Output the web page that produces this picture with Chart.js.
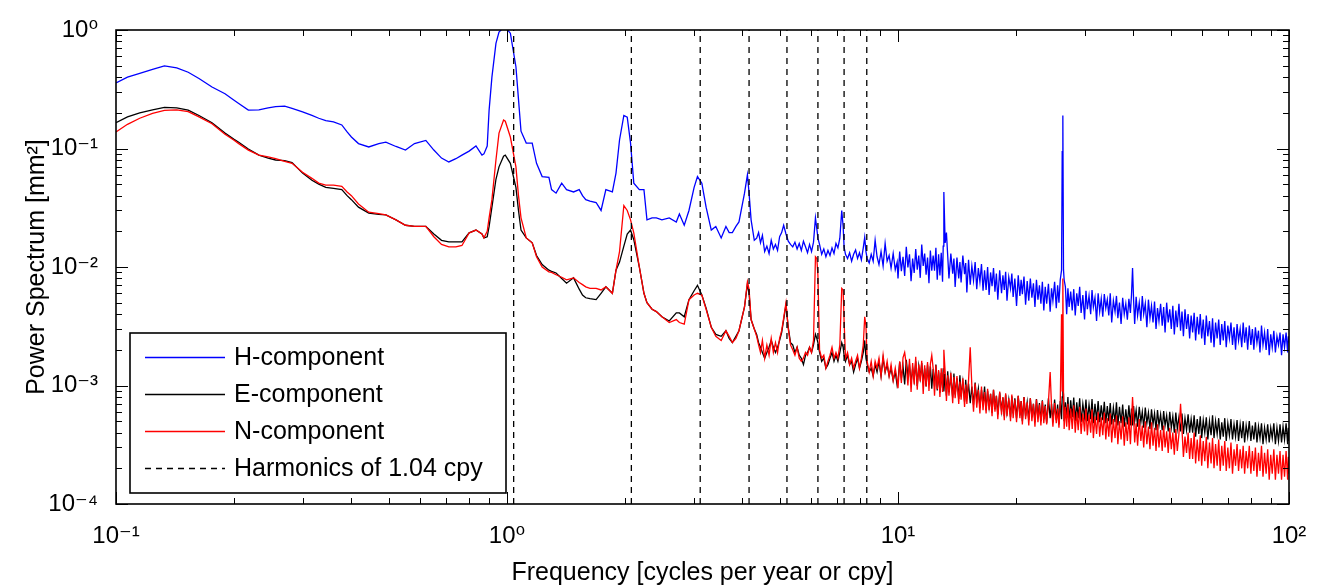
<!DOCTYPE html>
<html>
<head>
<meta charset="utf-8">
<script src="https://cdn.jsdelivr.net/npm/chart.js@4.4.1/dist/chart.umd.min.js"></script>
<style>
  html, body { margin: 0; padding: 0; background: #fff; }
  #wrap { width: 1321px; height: 588px; }
</style>
</head>
<body>
<div id="wrap"><canvas id="c" width="1321" height="588"></canvas></div>
<script>
// ---------------- DATA ----------------
// 0.1 .. 4.29 cpy
const freqLow = [
  0.100, 0.107, 0.115, 0.124, 0.133, 0.143, 0.153, 0.163, 0.176, 0.190,
  0.200, 0.206, 0.218, 0.232, 0.245, 0.256, 0.270, 0.282, 0.300, 0.317,
  0.330, 0.344, 0.360, 0.378, 0.390, 0.400, 0.417, 0.443, 0.470, 0.490,
  0.520, 0.550, 0.580, 0.620, 0.650, 0.680, 0.710, 0.740, 0.767, 0.800,
  0.833, 0.863, 0.873, 0.890, 0.900, 0.915, 0.937, 0.954, 0.980, 0.990,
  1.020, 1.054, 1.070, 1.086, 1.120, 1.160, 1.190, 1.230, 1.280, 1.300,
  1.335, 1.380, 1.420, 1.480, 1.530, 1.560, 1.590, 1.630, 1.690, 1.740,
  1.790, 1.860, 1.900, 1.940, 1.990, 2.030, 2.070, 2.110, 2.180, 2.240,
  2.280, 2.350, 2.410, 2.490, 2.600, 2.710, 2.760, 2.840, 2.920, 3.010,
  3.070, 3.150, 3.230, 3.330, 3.420, 3.530, 3.630, 3.700, 3.770, 3.850,
  3.920, 4.050, 4.120, 4.160, 4.210, 4.290
];
const hLow = [
  .357, .40, .43, .465, .497, .48, .44, .39, .33, .29,
  .257, .24, .211, .212, .22, .226, .228, .218, .204, .19,
  .18, .172, .168, .158, .138, .125, .11, .103, .11, .113,
  .104, .097, .11, .117, .097, .083, .077, .082, .088, .095,
  .105, .088, .09, .105, .211, .40, .77, .96, 1.05, 1.05,
  .94, .49, .26, .14, .111, .111, .075, .058, .057, .045,
  .042, .051, .045, .043, .045, .04, .037, .036, .035, .030,
  .045, .043, .062, .118, .19, .184, .111, .051, .045, .045,
  .025, .026, .026, .025, .026, .024, .028, .0225, .030, .047,
  .058, .051, .032, .0205, .022, .0176, .022, .0195, .0195, .022,
  .024, .042, .060, .042, .025, .0168
];
const eLow = [
  .165, .185, .20, .212, .222, .22, .211, .19, .165, .135,
  .12, .113, .099, .088, .083, .08, .079, .076, .062, .054,
  .05, .047, .046, .045, .04, .037, .032, .0285, .0278, .0275,
  .025, .0225, .022, .022, .019, .0168, .0163, .0163, .0163, .0194,
  .0205, .019, .0176, .018, .022, .032, .055, .07, .086, .088,
  .075, .047, .03, .0205, .0176, .016, .0125, .0105, .0094, .0092,
  .0089, .008, .0073, .0081, .0065, .0058, .0055, .0054, .0053, .006,
  .0068, .006, .0094, .011, .015, .019, .0205, .017, .01, .006,
  .005, .0044, .0042, .0038, .0035, .0041, .0041, .0038, .0053, .0063,
  .007, .0058, .0045, .0031, .0027, .0026, .0029, .0025, .0023, .0026,
  .0029, .0046, .0072, .006, .0036, .003
];
const nLow = [
  .138, .16, .18, .198, .21, .212, .205, .185, .162, .132,
  .118, .11, .097, .088, .085, .082, .078, .075, .063, .056,
  .051, .049, .049, .048, .043, .040, .034, .029, .0282, .0275,
  .025, .0225, .022, .022, .018, .0155, .0148, .0148, .0152, .0194,
  .0205, .019, .0176, .02, .026, .037, .08, .135, .174, .17,
  .125, .07, .04, .026, .0176, .016, .0122, .01, .0091, .009,
  .0086, .0082, .0078, .0081, .0074, .0071, .0068, .0066, .0066, .0064,
  .0068, .006, .0094, .0135, .033, .03, .025, .0194, .01, .006,
  .005, .0044, .0042, .0038, .0034, .0036, .0034, .0033, .0053, .0058,
  .006, .0058, .0044, .0031, .0026, .0024, .0029, .0026, .0023, .0025,
  .0029, .0046, .0075, .0065, .0036, .003
];

// 4.35 .. 9.95 cpy
const freqMid = [
  4.35, 4.40, 4.45, 4.50, 4.56, 4.62, 4.68, 4.74, 4.80, 4.86,
  4.92, 4.98, 5.04, 5.10, 5.17, 5.24, 5.31, 5.38, 5.45, 5.52,
  5.59, 5.66, 5.73, 5.80, 5.87, 5.94, 6.01, 6.08, 6.15, 6.20,
  6.24, 6.30, 6.38, 6.46, 6.54, 6.62, 6.70, 6.78, 6.86, 6.94,
  7.02, 7.10, 7.18, 7.24, 7.28, 7.34, 7.43, 7.52, 7.61, 7.70,
  7.79, 7.88, 7.97, 8.06, 8.15, 8.22, 8.28, 8.34, 8.44, 8.54,
  8.64, 8.74, 8.84, 8.94, 9.05, 9.16, 9.27, 9.38, 9.49, 9.60,
  9.72, 9.84, 9.95
];
const hMid = [
  .0175, .0195, .016, .0185, .0135, .015, .013, .0168, .0142, .0155,
  .0138, .018, .0195, .0225, .019, .0165, .0155, .0148, .0162, .0142,
  .0158, .0138, .0165, .0148, .0132, .0155, .0135, .0162, .026, .021,
  .0175, .0155, .0128, .0142, .0122, .0138, .0125, .0145, .013, .0158,
  .0145, .0175, .030, .022, .0147, .0128, .0118, .0132, .0112, .0128,
  .0139, .0118, .0132, .0115, .0145, .0178, .0135, .0118, .0108, .0128,
  .0112, .0168, .0122, .0105, .0135, .0102, .0158, .0112, .0125, .0098,
  .013, .0095, .011
];
const eMid = [
  .0027, .0023, .0021, .0019, .0017, .0019, .0021, .0024, .0021, .0019,
  .0021, .0024, .0028, .0036, .0048, .0031, .0023, .0022, .0019, .0021,
  .0018, .0017, .0015, .0018, .0019, .0021, .0019, .0022, .0027, .0025,
  .0023, .0019, .0016, .0017, .0014, .0015, .0017, .0019, .0016, .0018,
  .0016, .0019, .0023, .0021, .0018, .0016, .0018, .0015, .0016, .0013,
  .0015, .0017, .0014, .0016, .0019, .0024, .0017, .0015, .0013, .0014,
  .0012, .0015, .0013, .0016, .0012, .0017, .0013, .0015, .0012, .0014,
  .0011, .0013, .001
];
const nMid = [
  .0026, .0022, .0019, .0024, .0017, .0022, .0018, .0025, .0019, .0023,
  .0019, .0025, .0029, .0037, .005, .003, .0022, .002, .0018, .0021,
  .0017, .0016, .0017, .0019, .0018, .0021, .0019, .0024, .0122, .0118,
  .0085, .002, .0017, .0018, .0014, .0016, .0018, .0021, .0017, .0019,
  .0017, .0022, .0066, .0064, .0035, .0017, .0019, .0015, .0017, .0014,
  .0016, .0018, .0014, .0017, .0022, .0038, .0032, .0016, .0013, .0016,
  .0012, .0016, .0014, .0017, .0012, .0018, .0013, .0016, .0012, .0015,
  .0011, .0014, .0011
];

// 10 .. 100 cpy : lower-edge samples (A) and in-between upper-edge samples (B)
const freqHighA = [
  10.0, 10.2, 10.4, 10.6, 10.8, 11.0, 11.2, 11.4, 11.6, 11.8,
  12.0, 12.2, 12.4, 12.6, 12.8, 13.0, 13.1, 13.3, 13.5, 13.8,
  14.0, 14.3, 14.5, 14.8, 15.0, 15.3, 15.6, 15.9, 16.2, 16.5,
  16.8, 17.1, 17.4, 17.7, 18.0, 18.4, 18.7, 19.0, 19.4, 19.7,
  20.1, 20.5, 20.8, 21.2, 21.6, 22.0, 22.4, 22.8, 23.2, 23.6,
  24.0, 24.5, 24.9, 25.4, 25.8, 26.2, 26.4, 26.6, 27.0, 27.4,
  27.9, 28.4, 28.9, 29.4, 30.0, 30.5, 31.1, 31.6, 32.2, 32.8,
  33.4, 34.0, 34.6, 35.2, 35.9, 36.5, 37.2, 37.9, 38.6, 39.3,
  39.8, 40.3, 41.0, 41.8, 42.5, 43.3, 44.1, 44.9, 45.7, 46.5,
  47.4, 48.2, 49.1, 50.0, 50.9, 51.8, 52.8, 53.7, 54.7, 55.7,
  56.7, 57.7, 58.8, 59.8, 60.9, 62.0, 63.2, 64.3, 65.5, 66.7,
  67.9, 69.1, 70.4, 71.7, 73.0, 74.3, 75.7, 77.0, 78.4, 79.9,
  81.3, 82.8, 84.3, 85.8, 87.4, 89.0, 90.6, 92.3, 94.0, 95.7,
  97.4, 99.2, 100.0
];
const freqHighB = [
  10.1, 10.3, 10.5, 10.7, 10.9, 11.1, 11.3, 11.5, 11.7, 11.9,
  12.1, 12.3, 12.5, 12.7, 12.9, 13.05, 13.2, 13.4, 13.65, 13.9,
  14.15, 14.4, 14.65, 14.9, 15.15, 15.45, 15.75, 16.05, 16.35, 16.65,
  16.95, 17.25, 17.55, 17.85, 18.2, 18.55, 18.85, 19.2, 19.55, 19.9,
  20.3, 20.65, 21.0, 21.4, 21.8, 22.2, 22.6, 23.0, 23.4, 23.8,
  24.25, 24.7, 25.15, 25.6, 26.0, 26.3, 26.5, 26.8, 27.2, 27.65,
  28.15, 28.65, 29.15, 29.7, 30.25, 30.8, 31.35, 31.9, 32.5, 33.1,
  33.7, 34.3, 34.9, 35.55, 36.2, 36.85, 37.55, 38.25, 38.95, 39.55,
  40.05, 40.65, 41.4, 42.15, 42.9, 43.7, 44.5, 45.3, 46.1, 46.95,
  47.8, 48.65, 49.55, 50.45, 51.35, 52.3, 53.25, 54.2, 55.2, 56.2,
  57.2, 58.25, 59.3, 60.35, 61.45, 62.6, 63.75, 64.9, 66.1, 67.3,
  68.5, 69.75, 71.05, 72.35, 73.65, 75.0, 76.35, 77.7, 79.15, 80.6,
  82.05, 83.55, 85.05, 86.6, 88.2, 89.8, 91.45, 93.15, 94.85, 96.55,
  98.3, 99.6
];
const hHighA = [
  .0080, .0092, .0084, .0099, .0076, .0089, .0095, .0081, .0102, .0086,
  .0073, .0093, .0093, .0078, .0085, .0075, .043, .0195, .0080, .0088,
  .0068, .0080, .0074, .0087, .0061, .0071, .0077, .0065, .0075, .0063,
  .0064, .0058, .0069, .0062, .0053, .0060, .0064, .0052, .0066, .0056,
  .0047, .0057, .0059, .0048, .0052, .0055, .0046, .0053, .0049, .0043,
  .0049, .0042, .0052, .0045, .0050, .0094, .19, .0078, .0040, .0046,
  .0043, .0039, .0047, .0041, .0036, .0044, .0040, .0046, .0035, .0042,
  .0038, .0045, .0039, .0034, .0042, .0037, .0033, .0040, .0036, .0041,
  .0098, .0033, .0039, .0035, .0040, .0031, .0037, .0034, .0030, .0035,
  .0032, .0028, .0034, .0030, .0027, .0031, .0029, .0026, .0030, .0025,
  .0028, .0024, .0027, .0025, .0022, .0026, .0023, .0021, .0025, .0022,
  .0024, .0021, .0025, .0022, .0020, .0024, .0021, .0023, .0020, .0022,
  .0020, .0023, .0019, .0022, .0020, .0018, .0021, .0019, .0022, .0018,
  .0021, .0019, .0023
];
const hHighB = [
  .0135, .0122, .0148, .0128, .0118, .0142, .0125, .0155, .0130, .0120,
  .0138, .0125, .0145, .0128, .0132, .0150, .0160, .0125, .0130, .0118,
  .0120, .0110, .0125, .0108, .0115, .0102, .0110, .0098, .0106, .0094,
  .0100, .0090, .0098, .0088, .0094, .0085, .0091, .0082, .0088, .0080,
  .0085, .0078, .0083, .0076, .0080, .0073, .0078, .0070, .0075, .0068,
  .0072, .0066, .0075, .0070, .0078, .094, .0095, .0068, .0066, .0062,
  .0065, .0060, .0068, .0058, .0063, .0057, .0064, .0055, .0060, .0054,
  .0059, .0053, .0060, .0052, .0057, .0050, .0055, .0049, .0054, .0058,
  .0052, .0056, .0050, .0057, .0049, .0053, .0047, .0051, .0045, .0049,
  .0046, .0050, .0044, .0047, .0043, .0049, .0042, .0044, .0040, .0039,
  .0041, .0038, .0040, .0036, .0039, .0035, .0037, .0034, .0036, .0033,
  .0035, .0032, .0034, .0031, .0033, .0030, .0034, .0031, .0032, .0030,
  .0031, .0029, .0032, .0028, .0030, .0027, .0029, .0026, .0028, .0027,
  .0028, .0026
];
const eHighA = [
  .00108, .00115, .00102, .0012, .00105, .00111, .00099, .00116, .00104, .00098,
  .00102, .00094, .00098, .00091, .00087, .00095, .00089, .00082, .00088, .00079,
  .00084, .00077, .00081, .00073, .00078, .00071, .00069, .00074, .00065, .00068,
  .00062, .00066, .00059, .00063, .00057, .00061, .00055, .00059, .00054, .00058,
  .00053, .00056, .0005, .00055, .00051, .00054, .00049, .00053, .0005, .00052,
  .00048, .00053, .00049, .00051, .00047, .00052, .0009, .0005, .00053, .00049,
  .00054, .0005, .00053, .00049, .00054, .0005, .00052, .00048, .00051, .00049,
  .00051, .00048, .0005, .00047, .00049, .00046, .00048, .00045, .00047, .00046,
  .00046, .0005, .00045, .00049, .00044, .00048, .00043, .00047, .00042, .00046,
  .00042, .00046, .00041, .00044, .0004, .00043, .00041, .00039, .00042, .0004,
  .0004, .00037, .00039, .00036, .0004, .00035, .00038, .00036, .00039, .00035,
  .00037, .00034, .00038, .00035, .00037, .00034, .00036, .00033, .00037, .00034,
  .00035, .00033, .00036, .00032, .00035, .00033, .00036, .00032, .00034, .00033,
  .00035, .00032, .00034
];
const eHighB = [
  .00158, .00145, .00165, .0015, .0014, .0016, .00146, .00155, .0014, .0015,
  .00145, .00138, .0015, .00132, .00128, .0014, .00125, .00132, .0012, .00126,
  .00115, .00122, .00108, .00112, .00104, .00098, .00106, .00094, .00092, .00098,
  .0009, .00085, .00092, .00082, .00087, .00079, .00084, .00076, .00081, .00078,
  .00082, .00074, .0008, .00072, .00078, .0007, .00077, .00071, .00075, .00069,
  .00078, .0007, .00076, .00069, .00074, .0008, .00085, .00072, .0008, .00075,
  .00079, .00072, .00078, .0007, .00076, .00069, .00077, .0007, .00074, .00068,
  .00073, .00067, .00071, .00065, .00072, .00066, .00069, .00063, .00068, .00064,
  .00067, .00062, .00066, .0006, .00065, .00059, .00063, .00058, .00062, .00057,
  .00061, .00056, .0006, .00055, .00059, .00054, .00058, .00053, .00057, .00052,
  .00056, .00052, .00055, .00051, .00054, .0005, .00056, .0005, .00053, .00049,
  .00053, .00048, .00052, .00047, .00051, .00047, .0005, .00046, .0005, .00046,
  .00049, .00045, .00048, .00044, .00047, .00044, .00048, .00044, .00047, .00045,
  .00048, .00044
];
const nHighA = [
  .00095, .00105, .0019, .001, .00088, .00102, .00092, .00108, .00085, .00098,
  .0009, .0018, .00082, .00093, .0008, .00088, .002, .00074, .00082, .00071,
  .00078, .0007, .00076, .00066, .0007, .0021, .0006, .00065, .00058, .00062,
  .00058, .00062, .00055, .0006, .00052, .00057, .00051, .00055, .0005, .00053,
  .00049, .00053, .00047, .00052, .00046, .0005, .00045, .00049, .00046, .00048,
  .00047, .0013, .00045, .00048, .00044, .004, .008, .00043, .00045, .00042,
  .00043, .0004, .00042, .00039, .00041, .00038, .0004, .00036, .00039, .00037,
  .00038, .00035, .00037, .00033, .00036, .00032, .00035, .00031, .00034, .00032,
  .0008, .00033, .00031, .00034, .0003, .00032, .00029, .00031, .00028, .0003,
  .00028, .0003, .00027, .00029, .00026, .00028, .0007, .00025, .00027, .00024,
  .00024, .00022, .00023, .00021, .00023, .0002, .00022, .0002, .00021, .00019,
  .00021, .00019, .0002, .00018, .00021, .00019, .0002, .00018, .0002, .00018,
  .00019, .00017, .00019, .00017, .00018, .00016, .00018, .00016, .00018, .00016,
  .00017, .00016, .00018
];
const nHighB = [
  .0016, .00172, .0015, .00168, .00155, .00175, .0015, .00162, .00148, .00158,
  .00152, .0014, .00148, .00135, .0014, .00128, .0013, .00122, .00128, .00118,
  .0012, .00108, .00115, .00102, .0011, .00098, .00104, .00092, .00098, .00088,
  .00094, .00085, .00092, .00082, .00089, .0008, .00086, .00078, .00084, .00076,
  .00082, .00074, .0008, .00072, .00078, .0007, .00076, .00069, .00074, .00067,
  .00072, .00066, .00071, .00064, .0007, .0009, .0009, .00066, .0007, .00064,
  .00068, .0006, .00066, .00058, .00064, .00057, .00063, .00055, .0006, .00054,
  .00059, .00053, .00058, .00052, .00056, .0005, .00055, .00049, .00054, .0005,
  .00053, .00048, .00052, .00046, .0005, .00045, .00049, .00044, .00047, .00042,
  .00046, .00041, .00044, .0004, .00043, .00039, .00042, .00037, .0004, .00036,
  .0004, .00035, .00038, .00034, .00037, .00033, .00036, .00032, .00035, .00031,
  .00034, .0003, .00033, .00029, .00032, .00029, .00031, .00028, .00031, .00028,
  .0003, .00027, .00031, .00027, .00029, .00026, .00029, .00026, .00028, .00026,
  .00028, .00025
];

const harmonics = [1.04, 2.08, 3.12, 4.16, 5.20, 6.24, 7.28, 8.32];

const seriesNames = ['H-component', 'E-component', 'N-component', 'Harmonics of 1.04 cpy'];

const xDecades = [0.1, 1, 10, 100];
const xTickLabels = ['10\u207B\u00B9', '10\u2070', '10\u00B9', '10\u00B2'];
const xMinorTicks = [0.2,0.3,0.4,0.5,0.6,0.7,0.8,0.9, 2,3,4,5,6,7,8,9, 20,30,40,50,60,70,80,90];
const yDecades = [0.0001, 0.001, 0.01, 0.1, 1];
const yTickLabels = ['10\u207B\u2074', '10\u207B\u00B3', '10\u207B\u00B2', '10\u207B\u00B9', '10\u2070'];
const yMinorTicks = [
  0.0002,0.0003,0.0004,0.0005,0.0006,0.0007,0.0008,0.0009,
  0.002,0.003,0.004,0.005,0.006,0.007,0.008,0.009,
  0.02,0.03,0.04,0.05,0.06,0.07,0.08,0.09,
  0.2,0.3,0.4,0.5,0.6,0.7,0.8,0.9
];
const xTitle = 'Frequency [cycles per year or cpy]';
const yTitle = 'Power Spectrum [mm\u00B2]';

// ---------------- BUILD ----------------
const FONT = "'Liberation Sans', Arial, 'DejaVu Sans', sans-serif";
function interleave(a, b) {
  const out = [];
  a.forEach((v, i) => { out.push(v); if (i < b.length) out.push(b[i]); });
  return out;
}
const freqAll = freqLow.concat(freqMid, interleave(freqHighA, freqHighB));
const hAll = hLow.concat(hMid, interleave(hHighA, hHighB));
const eAll = eLow.concat(eMid, interleave(eHighA, eHighB));
const nAll = nLow.concat(nMid, interleave(nHighA, nHighB));
const pts = vals => freqAll.map((f, i) => ({ x: f, y: vals[i] }));

const datasets = [
  { label: seriesNames[0], data: pts(hAll), borderColor: '#0000ff', borderWidth: 1.3, order: 3, legendShow: true },
  { label: seriesNames[1], data: pts(eAll), borderColor: '#000000', borderWidth: 1.3, order: 2, legendShow: true },
  { label: seriesNames[2], data: pts(nAll), borderColor: '#ff0000', borderWidth: 1.3, order: 1, legendShow: true }
];
harmonics.forEach((h, i) => {
  datasets.push({
    label: seriesNames[3], data: [{ x: h, y: yDecades[0] }, { x: h, y: yDecades[yDecades.length - 1] }],
    borderColor: '#000000', borderWidth: 1.3, borderDash: [6, 5], order: 0, legendShow: i === 0
  });
});

const framePlugin = {
  id: 'frame',
  afterDraw(chart) {
    const { ctx, chartArea: a, scales: { x, y } } = chart;
    ctx.save();
    ctx.strokeStyle = '#000';
    ctx.lineWidth = 1;
    const seg = (x1, y1, x2, y2) => { ctx.beginPath(); ctx.moveTo(x1, y1); ctx.lineTo(x2, y2); ctx.stroke(); };
    const xt = (v, len) => { const p = Math.round(x.getPixelForValue(v)) + 0.5; seg(p, a.bottom, p, a.bottom - len); seg(p, a.top, p, a.top + len); };
    const yt = (v, len) => { const p = Math.round(y.getPixelForValue(v)) + 0.5; seg(a.left, p, a.left + len, p); seg(a.right, p, a.right - len, p); };
    xDecades.forEach(v => xt(v, 12)); xMinorTicks.forEach(v => xt(v, 6));
    yDecades.forEach(v => yt(v, 12)); yMinorTicks.forEach(v => yt(v, 6));
    ctx.lineWidth = 1.6;
    ctx.strokeRect(a.left, a.top, a.right - a.left, a.bottom - a.top);

    // legend box (inside plot, lower left)
    const items = chart.data.datasets.filter(d => d.legendShow);
    const bx = a.left + 14, bw = 376, bh = 160, by = a.bottom - 11 - bh;
    ctx.fillStyle = '#fff';
    ctx.fillRect(bx, by, bw, bh);
    ctx.lineWidth = 1.6;
    ctx.strokeRect(bx, by, bw, bh);
    ctx.font = '25px ' + FONT;
    ctx.textBaseline = 'middle';
    ctx.textAlign = 'left';
    items.forEach((d, i) => {
      const cy = by + 24 + i * 37;
      ctx.strokeStyle = d.borderColor;
      ctx.lineWidth = 1.3;
      ctx.setLineDash(d.borderDash || []);
      seg(bx + 15, cy + 0.5, bx + 95, cy + 0.5);
      ctx.setLineDash([]);
      ctx.fillStyle = '#000';
      ctx.fillText(d.label, bx + 104, cy + 1);
    });
    ctx.restore();
  }
};

new Chart(document.getElementById('c'), {
  type: 'line',
  data: { datasets },
  options: {
    responsive: false,
    animation: false,
    devicePixelRatio: 1,
    layout: { padding: { top: 30, right: 32, left: 0, bottom: 0 } },
    elements: { point: { radius: 0 }, line: { tension: 0 } },
    plugins: { legend: { display: false }, tooltip: { enabled: false } },
    scales: {
      x: {
        type: 'logarithmic', position: 'bottom', min: 0.1, max: 100,
        grid: { display: false, drawTicks: false }, border: { display: false },
        afterBuildTicks: s => { s.ticks = xDecades.map(v => ({ value: v, major: true })); },
        afterFit: s => { s.height = 84; s.paddingLeft = 0; s.paddingRight = 0; },
        ticks: { autoSkip: false, maxRotation: 0, padding: 18, color: '#000',
                 font: { family: FONT, size: 24 },
                 callback: (v, i) => xTickLabels[i] },
        title: { display: true, text: xTitle, color: '#000', font: { family: FONT, size: 25 },
                 padding: { top: 0, bottom: 0 } }
      },
      y: {
        type: 'logarithmic', position: 'left', min: 0.0001, max: 1,
        grid: { display: false, drawTicks: false }, border: { display: false },
        afterBuildTicks: s => { s.ticks = yDecades.map(v => ({ value: v, major: true })); },
        afterFit: s => { s.width = 116; s.paddingTop = 0; s.paddingBottom = 0; },
        ticks: { autoSkip: false, padding: 18, color: '#000',
                 font: { family: FONT, size: 24 },
                 callback: (v, i) => yTickLabels[i] },
        title: { display: true, text: yTitle, color: '#000', font: { family: FONT, size: 25 },
                 padding: { top: 22, bottom: 0 } }
      }
    }
  },
  plugins: [framePlugin]
});
</script>
</body>
</html>
